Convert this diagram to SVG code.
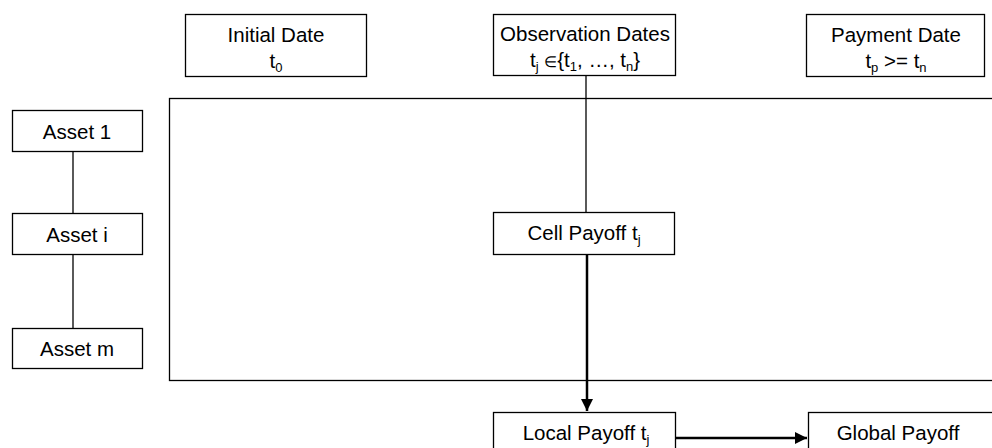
<svg xmlns="http://www.w3.org/2000/svg" width="992" height="448" viewBox="0 0 992 448">
<style>
.box{fill:#fff;stroke:#000;stroke-width:1.3}
.t{font-family:"Liberation Sans",Arial,sans-serif;font-size:20.5px;fill:#000;text-anchor:middle}
.s{font-size:13px}
.e{font-size:15px}
.thin{stroke:#000;stroke-width:1.3;fill:none}
.thick{stroke:#000;stroke-width:2.5;fill:none}
</style>
<defs>
<marker id="ah" viewBox="0 0 10 10" refX="10" refY="5" markerWidth="5" markerHeight="5" orient="auto" markerUnits="strokeWidth">
<path d="M0,0 L10,5 L0,10 z" fill="#000"/>
</marker>
</defs>
<g id="frame"><rect x="169.5" y="98.5" width="840" height="282" class="box"/></g>
<g id="connectors">
<line x1="73" y1="152" x2="73" y2="213" class="thin"/>
<line x1="73" y1="255" x2="73" y2="328" class="thin"/>
<line x1="586" y1="76" x2="586" y2="212" class="thin"/>
<line x1="587" y1="255" x2="587" y2="411" class="thick" marker-end="url(#ah)"/>
<line x1="676" y1="438" x2="807" y2="438" class="thick" marker-end="url(#ah)"/>
</g>
<g id="initial"><rect x="185.5" y="14.5" width="181" height="62" class="box"/>
<text x="276" y="42" class="t">Initial Date</text>
<text x="276" y="68" class="t">t<tspan class="s" dy="4">0</tspan></text></g>
<g id="observation"><rect x="493.5" y="14.5" width="182" height="61" class="box"/>
<text x="585" y="41" class="t">Observation Dates</text>
<text x="585" y="67" class="t">t<tspan class="s" dy="4">j</tspan><tspan dy="-4"> </tspan><tspan class="e">∈</tspan><tspan>{t</tspan><tspan class="s" dy="4">1</tspan><tspan dy="-4">, …, t</tspan><tspan class="s" dy="4">n</tspan><tspan dy="-4">}</tspan></text></g>
<g id="payment"><rect x="806.5" y="14.5" width="178" height="62" class="box"/>
<text x="896" y="42" class="t">Payment Date</text>
<text x="896" y="68" class="t">t<tspan class="s" dy="4">p</tspan><tspan dy="-4"> &gt;= t</tspan><tspan class="s" dy="4">n</tspan></text></g>
<g id="asset1"><rect x="12.5" y="110.5" width="130" height="41" class="box"/>
<text x="77" y="139" class="t">Asset 1</text></g>
<g id="asseti"><rect x="12.5" y="213.5" width="130" height="41" class="box"/>
<text x="77" y="242" class="t">Asset i</text></g>
<g id="assetm"><rect x="12.5" y="328.5" width="130" height="40" class="box"/>
<text x="77" y="356" class="t">Asset m</text></g>
<g id="cell"><rect x="493.5" y="212.5" width="181" height="42" class="box"/>
<text x="584" y="240" class="t">Cell Payoff t<tspan class="s" dy="4">j</tspan></text></g>
<g id="local"><rect x="493.5" y="412.5" width="182" height="50" class="box"/>
<text x="586" y="440" class="t">Local Payoff t<tspan class="s" dy="4">j</tspan></text></g>
<g id="global"><rect x="808.5" y="412.5" width="200" height="50" class="box"/>
<text x="898" y="440" class="t">Global Payoff</text></g>
</svg>
